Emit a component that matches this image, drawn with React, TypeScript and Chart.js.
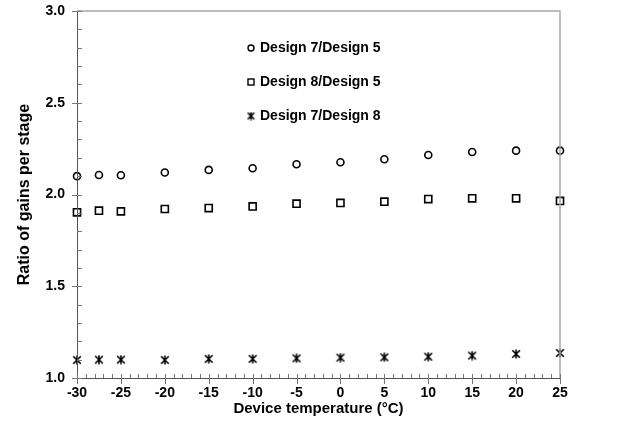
import React, { useEffect, useRef } from 'react';
import { Chart, registerables } from 'chart.js';

Chart.register(...registerables);

const temperatures = [-30, -27.5, -25, -20, -15, -10, -5, 0, 5, 10, 15, 20, 25];
const design7over5 = [2.1, 2.106, 2.105, 2.12, 2.134, 2.143, 2.165, 2.176, 2.192, 2.215, 2.232, 2.239, 2.239];
const design8over5 = [1.903, 1.912, 1.908, 1.921, 1.926, 1.935, 1.95, 1.954, 1.961, 1.975, 1.979, 1.979, 1.965];
const design7over8 = [1.098, 1.1, 1.1, 1.098, 1.104, 1.104, 1.107, 1.111, 1.113, 1.116, 1.122, 1.131, 1.136];
const seriesLabels = ['Design 7/Design 5', 'Design 8/Design 5', 'Design 7/Design 8'];
const xTitle = 'Device temperature (\u00B0C)';
const yTitle = 'Ratio of gains per stage';
const xMin = -30;
const xMax = 25;
const xMajorStep = 5;
const xMinorStep = 1;
const yMin = 1.0;
const yMax = 3.0;
const yMajorStep = 0.5;
const yMinorStep = 0.1;

const FONT = "'Liberation Sans', Arial, sans-serif";

function makeStar(size: number): HTMLCanvasElement {
  const c = document.createElement('canvas');
  c.width = size;
  c.height = size;
  const ctx = c.getContext('2d')!;
  ctx.strokeStyle = '#000';
  ctx.lineWidth = 1.6;
  const m = 1.2;
  ctx.beginPath();
  ctx.moveTo(m, m);
  ctx.lineTo(size - m, size - m);
  ctx.moveTo(size - m, m);
  ctx.lineTo(m, size - m);
  ctx.moveTo(size / 2, 0.5);
  ctx.lineTo(size / 2, size - 0.5);
  ctx.stroke();
  return c;
}

export default function App() {
  const ref = useRef<HTMLCanvasElement | null>(null);

  useEffect(() => {
    document.body.style.margin = '0';
    const canvas = ref.current;
    if (!canvas) return;
    const star = makeStar(10);
    const starSmall = makeStar(9);

    const toPts = (ys: number[]) => temperatures.map((x, i) => ({ x, y: ys[i] }));

    const decorPlugin = {
      id: 'decor',
      afterDatasetsDraw(chart: any) {
        const { ctx, chartArea } = chart;
        const { left, right, top, bottom } = chartArea;
        const xs = chart.scales.x;
        const ys = chart.scales.y;
        ctx.save();
        ctx.strokeStyle = '#a8a8a8';
        ctx.lineWidth = 1.5;
        ctx.beginPath();
        ctx.moveTo(left, top);
        ctx.lineTo(right, top);
        ctx.lineTo(right, bottom);
        ctx.stroke();
        ctx.strokeStyle = '#555';
        ctx.lineWidth = 1;
        ctx.beginPath();
        ctx.moveTo(left + 0.5, top);
        ctx.lineTo(left + 0.5, bottom + 0.5);
        ctx.lineTo(right, bottom + 0.5);
        ctx.stroke();
        ctx.strokeStyle = '#777';
        ctx.lineWidth = 1;
        ctx.beginPath();
        const nY = Math.round((yMax - yMin) / yMinorStep);
        for (let i = 0; i <= nY; i++) {
          const v = yMin + i * yMinorStep;
          const py = Math.round(ys.getPixelForValue(v)) + 0.5;
          const major = Math.abs(v / yMajorStep - Math.round(v / yMajorStep)) < 1e-6;
          ctx.moveTo(major ? left - 5 : left, py);
          ctx.lineTo(left + 5, py);
        }
        const nX = Math.round((xMax - xMin) / xMinorStep);
        for (let i = 0; i <= nX; i++) {
          const v = xMin + i * xMinorStep;
          const px = Math.round(xs.getPixelForValue(v)) + 0.5;
          const major = Math.abs(v / xMajorStep - Math.round(v / xMajorStep)) < 1e-6;
          ctx.moveTo(px, bottom - 4);
          ctx.lineTo(px, major ? bottom + 6 : bottom);
        }
        ctx.stroke();
        const lx = 251;
        const tx = 260;
        const lys = [48, 82, 116];
        ctx.font = `bold 14px ${FONT}`;
        ctx.fillStyle = '#000';
        ctx.textBaseline = 'middle';
        ctx.textAlign = 'left';
        ctx.strokeStyle = '#000';
        ctx.lineWidth = 1.4;
        ctx.beginPath();
        ctx.arc(lx, lys[0], 3, 0, Math.PI * 2);
        ctx.stroke();
        ctx.strokeRect(lx - 3, lys[1] - 3, 6, 6);
        ctx.drawImage(starSmall, lx - 4.5, lys[2] - 4.5);
        seriesLabels.forEach((s, i) => ctx.fillText(s, tx, lys[i] + 0.5));
        ctx.restore();
      },
    };

    const chart = new Chart(canvas, {
      type: 'scatter',
      data: {
        datasets: [
          {
            label: seriesLabels[0],
            data: toPts(design7over5),
            pointStyle: 'circle',
            pointRadius: 3.5,
            borderWidth: 1.6,
            borderColor: '#000',
            backgroundColor: 'rgba(255,255,255,0)',
          },
          {
            label: seriesLabels[1],
            data: toPts(design8over5),
            pointStyle: 'rect',
            pointRadius: 5,
            borderWidth: 1.6,
            borderColor: '#000',
            backgroundColor: 'rgba(255,255,255,0)',
          },
          {
            label: seriesLabels[2],
            data: toPts(design7over8),
            pointStyle: star as any,
            pointRadius: 5,
            borderColor: '#000',
            backgroundColor: '#000',
          },
        ],
      },
      options: {
        animation: false,
        responsive: false,
        devicePixelRatio: 1,
        clip: false as any,
        layout: { padding: { top: 11, right: 79, bottom: 0, left: 0 } },
        plugins: {
          legend: { display: false },
          tooltip: { enabled: false },
        },
        scales: {
          x: {
            type: 'linear',
            min: xMin,
            max: xMax,
            grid: { display: false, drawTicks: false },
            border: { display: false },
            ticks: {
              stepSize: xMajorStep,
              color: '#000',
              padding: 7,
              maxRotation: 0,
              font: { family: FONT, size: 14, weight: 'bold' },
            },
            title: {
              display: true,
              text: xTitle,
              color: '#000',
              font: { family: FONT, size: 15, weight: 'bold' },
              padding: { top: 0, bottom: 20 },
            },
            afterFit: (s: any) => {
              s.height = 60;
              s.paddingLeft = 0;
              s.paddingRight = 0;
            },
          },
          y: {
            type: 'linear',
            min: yMin,
            max: yMax,
            grid: { display: false, drawTicks: false },
            border: { display: false },
            ticks: {
              stepSize: yMajorStep,
              color: '#000',
              padding: 12,
              callback: (v: any) => Number(v).toFixed(1),
              font: { family: FONT, size: 14, weight: 'bold' },
            },
            title: {
              display: true,
              text: yTitle,
              color: '#000',
              font: { family: FONT, size: 16, weight: 'bold' },
              padding: { top: 15, bottom: 0 },
            },
            afterFit: (s: any) => {
              s.width = 77;
              s.paddingTop = 0;
              s.paddingBottom = 0;
            },
          },
        },
      },
      plugins: [decorPlugin],
    });
    return () => chart.destroy();
  }, []);

  return (
    <div style={{ width: 639, height: 438, background: '#fff' }}>
      <canvas ref={ref} width={639} height={438} style={{ display: 'block' }} />
    </div>
  );
}
